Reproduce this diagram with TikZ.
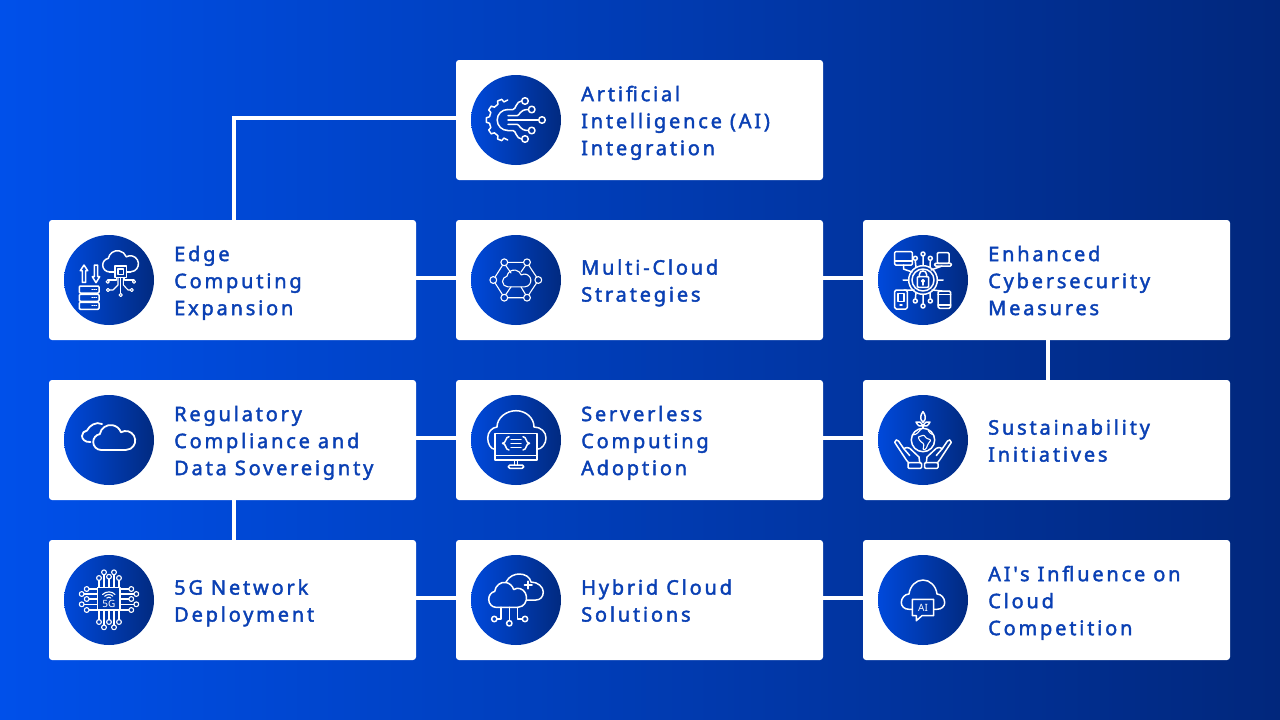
\documentclass[tikz,border=0pt]{standalone}
\usepackage{fontspec}
\newfontfamily\cardfont[LetterSpace=14,FakeBold=2]{Noto Sans}
\newfontfamily\iconfont{Noto Sans}
\usetikzlibrary{calc}
\definecolor{bgleft}{HTML}{0050EA}
\definecolor{bgmid}{HTML}{033DB4}
\definecolor{bgright}{HTML}{01277C}
\definecolor{badgeleft}{HTML}{0049DB}
\definecolor{badgeright}{HTML}{012A80}
\definecolor{cardink}{HTML}{0A40B4}
\tikzset{
    card/.style={fill=white,rounded corners=3pt,minimum width=367pt,minimum height=120pt,inner sep=0pt},
    badge/.style={circle,minimum size=90pt,inner sep=0pt,left color=badgeleft,right color=badgeright},
    cardtext/.style={anchor=west,align=left,inner sep=0pt,yshift=-3pt,text=cardink,font=\cardfont\fontsize{20}{27}\selectfont,
      execute at begin node={\rule{0pt}{21pt}},execute at end node={\rule[-5pt]{0pt}{5pt}}},
    link/.style={draw=white,line width=4pt},
    icon/.style={draw=white,line width=1.5pt,line cap=round,line join=round},
    fine/.style={draw=white,line width=1.1pt,line cap=round,line join=round},
    icontext/.style={text=white,inner sep=0pt,font=\iconfont\fontsize{10}{10}\selectfont},
}
% cloud outline, bottom left open
\newcommand{\cloudarcs}{(-.6,.6) arc[start angle=90,end angle=260,radius=.4] arc[start angle=190,end angle=340,radius=.55] arc[start angle=240,end angle=450,radius=.475]}
\begin{document}
\begin{tikzpicture}[x=1pt,y=-1pt]
  \shade[left color=bgleft,middle color=bgmid,right color=bgright] (0,0) rectangle (1280,720);
  %cards
  \node[card] (aicard) at (639.5,120) {};
  \node[card] (edgecard) at (232.5,280) {};
  \node[card] (multicard) at (639.5,280) {};
  \node[card] (securecard) at (1046.5,280) {};
  \node[card] (rulescard) at (232.5,440) {};
  \node[card] (servercard) at (639.5,440) {};
  \node[card] (greencard) at (1046.5,440) {};
  \node[card] (fivegcard) at (232.5,600) {};
  \node[card] (hybridcard) at (639.5,600) {};
  \node[card] (influencecard) at (1046.5,600) {};
  %links
  \draw[link] ([yshift=2pt]aicard.west) -| ([xshift=1.5pt]edgecard.north);
  \draw[link] ([yshift=2pt]edgecard.east) -- ([yshift=2pt]multicard.west);
  \draw[link] ([yshift=2pt]multicard.east) -- ([yshift=2pt]securecard.west);
  \draw[link] ([xshift=1.5pt]securecard.south) -- ([xshift=1.5pt]greencard.north);
  \draw[link] ([yshift=2pt]greencard.west) -- ([yshift=2pt]servercard.east);
  \draw[link] ([yshift=2pt]servercard.west) -- ([yshift=2pt]rulescard.east);
  \draw[link] ([xshift=1.5pt]rulescard.south) -- ([xshift=1.5pt]fivegcard.north);
  \draw[link] ([yshift=2pt]fivegcard.east) -- ([yshift=2pt]hybridcard.west);
  \draw[link] ([yshift=2pt]hybridcard.east) -- ([yshift=2pt]influencecard.west);
  %badges
  \node[badge] (aibadge) at (516,120) {};
  \node[badge] (edgebadge) at (109,280) {};
  \node[badge] (multibadge) at (516,280) {};
  \node[badge] (securebadge) at (923,280) {};
  \node[badge] (rulesbadge) at (109,440) {};
  \node[badge] (serverbadge) at (516,440) {};
  \node[badge] (greenbadge) at (923,440) {};
  \node[badge] (fivegbadge) at (109,600) {};
  \node[badge] (hybridbadge) at (516,600) {};
  \node[badge] (influencebadge) at (923,600) {};
  %texts
  \node[cardtext] (aitext) at (581,120) {Artificial\\Intelligence (AI)\\Integration};
  \node[cardtext] (edgetext) at (174,280) {Edge\\Computing\\Expansion};
  \node[cardtext] (multitext) at (581,280) {Multi-Cloud\\Strategies};
  \node[cardtext] (securetext) at (988,280) {Enhanced\\Cybersecurity\\Measures};
  \node[cardtext] (rulestext) at (174,440) {Regulatory\\Compliance and\\Data Sovereignty};
  \node[cardtext] (servertext) at (581,440) {Serverless\\Computing\\Adoption};
  \node[cardtext] (greentext) at (988,440) {Sustainability\\Initiatives};
  \node[cardtext] (fivegtext) at (174,600) {5G Network\\Deployment};
  \node[cardtext] (hybridtext) at (581,600) {Hybrid Cloud\\Solutions};
  \node[cardtext] (influencetext) at (988,600) {AI's Influence on\\Cloud\\Competition};
  %icon AI
  \begin{scope}[shift={(aibadge.center)}]
    \draw[icon] (-8.3,20) \foreach \a in {112,146,180,214,248} { -- ($(-8.3,0)+(\a-10:18.5)$) -- ($(-8.3,0)+(\a-6:21.5)$) -- ($(-8.3,0)+(\a+6:21.5)$) -- ($(-8.3,0)+(\a+10:18.5)$) } -- (-8.3,-20);
    \draw[icon] (-8.3,-10.5) arc[start angle=270,end angle=90,radius=10.5];
    \draw[icon] (-8,0) -- (22.7,0);
    \draw[icon] (26,0) circle[radius=3.3];
    \foreach \s in {1,-1} {
      \draw[icon,yscale=\s] (-8,4.3) -- (1,4.3) .. controls (4,4.3) and (3,10.5) .. (12.4,10.5);
      \draw[icon,yscale=\s] (-8.3,10.5) -- (-3,10.5) .. controls (0,10.5) and (0,19) .. (5.7,19);
      \draw[icon,yscale=\s] (15.7,10.5) circle[radius=3.3];
      \draw[icon,yscale=\s] (9,19) circle[radius=3.3];
    }
  \end{scope}
  %icon edge
  \begin{scope}[shift={(edgebadge.center)}]
    \draw[icon] (-25,-15) -- (-21.3,-9.3) -- (-23.3,-9.3) -- (-23.3,2.3) -- (-26.7,2.3) -- (-26.7,-9.3) -- (-28.7,-9.3) -- cycle;
    \draw[icon] (-13,2.7) -- (-9.3,-3.3) -- (-11.3,-3.3) -- (-11.3,-15) -- (-14.7,-15) -- (-14.7,-3.3) -- (-16.7,-3.3) -- cycle;
    \foreach \y in {6,14.3,22.3} {
      \draw[icon,rounded corners=1pt] (-29.7,\y) rectangle (-10,\y+7);
      \draw[fine] (-17,\y+3.5) -- (-16.5,\y+3.5) (-15,\y+3.5) -- (-14.5,\y+3.5) (-13,\y+3.5) -- (-12.5,\y+3.5);
    }
    \draw[icon,shift={(10.7,-18.3)},scale=17] \cloudarcs;
    \draw[icon] (0.5,-8.1) -- (5.9,-8.1) (17.5,-8.1) -- (21.4,-8.1);
    \draw[icon] (5.9,-14.1) rectangle (17.5,-2.5);
    \draw[icon] (9.1,-10.9) rectangle (14.3,-5.7);
    \draw[fine] (7.5,-2.5) -- (7.5,0) -- (-1.3,0);
    \draw[fine] (15.9,-2.5) -- (15.9,0) -- (25,0);
    \draw[fine] (9,-2.5) -- (9,5) -- (4,10) -- (0.6,10);
    \draw[fine] (14.4,-2.5) -- (14.4,5) -- (19,10) -- (21.1,10);
    \draw[fine] (11.7,-2.5) -- (11.7,13.4);
    \foreach \x/\y in {-1.3/1.7,25/1.7,-1/10,22.7/10,11.7/15} {
      \draw[fine] (\x,\y) circle[radius=1.6];
    }
  \end{scope}
  %icon multi cloud
  \begin{scope}[shift={(multibadge.center)}]
    \draw[fine] (-8.2,-17.7) -- (7.5,-17.7) (12.8,-14.7) -- (20.5,-3) (20.5,3) -- (12.8,14.7) (7.5,17.7) -- (-8.2,17.7) (-13.5,14.7) -- (-20.9,3) (-20.9,-3) -- (-13.5,-14.7);
    \draw[fine] (-10.2,-14.5) -- (-5,-7) (9.5,-14.5) -- (5,-8) (-10.2,14.5) -- (-5,6.9) (9.5,14.5) -- (5,6.9);
    \draw[fine,shift={(0,-1.2)},scale=13.5] \cloudarcs -- cycle;
    \foreach \x/\y in {-11.7/-17.7,11/-17.7,22.3/0,11/17.7,-11.7/17.7,-22.7/0} {
      \draw[fine] (\x,\y) circle[radius=3.4];
    }
  \end{scope}
  %icon security
  \begin{scope}[shift={(securebadge.center)}]
    \draw[icon,rounded corners=1pt] (-28.3,-28.3) rectangle (-10.7,-15);
    \draw[icon] (-28.3,-19) -- (-10.7,-19);
    \draw[icon] (-19.5,-15) -- (-19.5,-11) -- (-11,-8) (19,-14) -- (8,-10) (-19,10) -- (-9,10) (19,11) -- (9,10) (-14.5,0) -- (-20,0) (14.5,0) -- (20,0);
    \draw[icon,rounded corners=1pt] (14.3,-27.3) rectangle (26,-16.7);
    \draw[icon,rounded corners=1pt] (11.7,-16.7) rectangle (28.3,-14);
    \draw[icon,rounded corners=1.5pt] (-28.3,10) rectangle (-15.7,29);
    \draw[icon] (-25,13.3) rectangle (-19,21.7);
    \draw[icon] (-23,25) -- (-21,25);
    \draw[icon,rounded corners=1.5pt] (15,11) rectangle (27.7,28.3);
    \draw[icon] (15,14.3) -- (27.7,14.3) (15,25) -- (27.7,25);
    \draw[icon] (0,0) circle[radius=14.3];
    \draw[icon] (0,0) circle[radius=11];
    \draw[icon,rounded corners=1pt] (-5.7,-3.3) rectangle (5.7,7.3);
    \draw[icon] (-3.6,-3.3) -- (-3.6,-5.5) arc[start angle=180,end angle=360,radius=3.6] -- (3.6,-3.3);
    \draw[icon] (0,1) circle[radius=1.4];
    \draw[icon] (0,2.4) -- (0,5);
    \draw[icon] (0,-14.3) -- (0,-24) (-7,-12.5) -- (-7.7,-19) (7,-12.5) -- (7.3,-19) (0,14.3) -- (0,24) (-7,12.5) -- (-7.7,19) (7,12.5) -- (7.3,19);
    \foreach \x/\y in {-7.7/-21.7,0/-26,7.3/-21.7,-7.7/21,0/26,7.3/21} {
      \draw[icon] (\x,\y) circle[radius=2];
    }
  \end{scope}
  %icon regulatory
  \begin{scope}[shift={(rulesbadge.center)}]
    \draw[icon,line width=1.8pt,shift={(4.2,-2)},scale=20] \cloudarcs -- cycle;
    \draw[icon,line width=1.8pt] (-18.5,2) .. controls (-24,2.5) and (-27,-1) .. (-27,-4) .. controls (-27,-7) and (-25,-9) .. (-22,-9.5) .. controls (-20,-14) and (-13,-19) .. (-7,-16);
  \end{scope}
  %icon serverless
  \begin{scope}[shift={(serverbadge.center)}]
    \draw[icon] (-21,9.3) .. controls (-25.5,9.3) and (-28.3,3.5) .. (-28.3,-2) .. controls (-28.3,-8) and (-24,-12.5) .. (-19,-13) .. controls (-19,-22) and (-10,-29.3) .. (0,-29.3) .. controls (10,-29.3) and (18,-22) .. (18,-13) .. controls (25,-13) and (30,-8) .. (30,-2) .. controls (30,3.5) and (26,9.3) .. (21,9.3);
    \draw[icon] (-21,-6.7) rectangle (21,20);
    \draw[icon] (-21,15.7) -- (21,15.7);
    \draw[icon] (-1.7,20) -- (-1.7,25) (1.7,20) -- (1.7,25);
    \draw[icon,rounded corners=1.5pt] (-7.7,25) rectangle (7.7,28.3);
    \draw[icon] (-7,-3.3) .. controls (-11,-3.3) and (-9.5,3.3) .. (-13.5,3.3) .. controls (-9.5,3.3) and (-11,10) .. (-7,10);
    \draw[icon] (7,-3.3) .. controls (11,-3.3) and (9.5,3.3) .. (13.5,3.3) .. controls (9.5,3.3) and (11,10) .. (7,10);
    \draw[icon] (-5,-0.7) -- (5,-0.7) (-5,3.3) -- (5,3.3) (-5,7.3) -- (5,7.3);
  \end{scope}
  %icon sustainability
  \begin{scope}[shift={(greenbadge.center)}]
    \draw[icon] (0,0) circle[radius=11.7];
    \draw[fine,rounded corners=1pt] (-5,-3) -- (1,-5) -- (3,-2) -- (8,0) -- (5,4) -- (3,9) -- (0,10) -- (1,4) -- (-3,1) -- cycle;
    \draw[fine,rounded corners=1.5pt] (-10.5,-5) -- (-6,-6) -- (-4,-9) -- (-1,-11.5) (5,-10.5) -- (6,-7.5) -- (10.5,-5);
    \draw[icon] (0,-11.7) -- (0,-15);
    \draw[icon] (0,-17.7) .. controls (-4,-21) and (-2,-26) .. (0,-28.3) .. controls (2,-26) and (4,-21) .. (0,-17.7);
    \foreach \s in {1,-1} {
      \draw[icon,xscale=\s] (0,-14) .. controls (3,-13) and (5,-14) .. (7,-18) .. controls (4,-19) and (2,-18) .. (0,-14);
      \draw[icon,xscale=\s] (-26.7,0) -- (-28.3,2.3) -- (-17,19.5) -- (-14.5,22.7);
      \draw[icon,xscale=\s] (-26.7,0) -- (-24.5,1) -- (-19,9) (-19,9) -- (-13.3,15.5);
      \draw[icon,xscale=\s] (-19.5,8.5) -- (-16,7.5) -- (-13.3,8.3) -- (-4,17) -- (-3.3,22.7);
      \draw[icon,xscale=\s,rounded corners=1pt] (-15,22.7) rectangle (-1.5,28.3);
    }
  \end{scope}
  %icon 5G
  \begin{scope}[shift={(fivegbadge.center)}]
    \foreach \x/\y in {-10/-22,-5/-27.7,0/-23.3,5/-27.7,10/-22} {
      \draw[fine] (\x,-12.3) -- (\x,\y+2.4);
      \draw[fine] (\x,\y) circle[radius=2.4];
    }
    \foreach \x/\y in {-10/22,-5/27.3,0/22,5/27.3,10/22} {
      \draw[fine] (\x,10) -- (\x,\y-2.4);
      \draw[fine] (\x,\y) circle[radius=2.4];
    }
    \foreach \x/\y in {-22.3/-11,-27.3/-6,-22.3/-1,-27.3/4.3,-22.3/10} {
      \draw[fine] (-11.3,\y) -- (\x+2.4,\y);
      \draw[fine] (\x,\y) circle[radius=2.4];
    }
    \foreach \x/\y in {22.3/-11,27.3/-6,22.3/-1,27.3/4.3,22.3/10} {
      \draw[fine] (11,\y) -- (\x-2.4,\y);
      \draw[fine] (\x,\y) circle[radius=2.4];
    }
    \draw[icon,fill=badgeleft!50!badgeright] (-11.3,-12.3) rectangle (11,10);
    \draw[fine] (-6.5,-5.5) .. controls (-3,-9) and (3,-9) .. (6,-5.5) (-4.3,-3.8) .. controls (-2,-6) and (2,-6) .. (3.8,-3.8) (-2.2,-2) .. controls (-1,-3) and (1,-3) .. (1.8,-2);
    \node[icontext] (fivegmark) at (-0.1,4.2) {5G};
  \end{scope}
  %icon hybrid
  \begin{scope}[shift={(hybridbadge.center)}]
    \draw[icon,shift={(-9.3,-4.7)},xscale=18,yscale=20] \cloudarcs -- cycle;
    \draw[icon] (-10,-18) .. controls (-7,-24) and (-1,-26) .. (3.3,-26) .. controls (9,-26) and (14,-23) .. (15,-18) .. controls (22,-18) and (27.3,-13) .. (27.3,-8) .. controls (27.3,-3) and (24,0) .. (20,0) -- (11,0);
    \draw[icon,line width=1.8pt] (12.3,-18.7) -- (12.3,-11.3) (8.6,-15) -- (16,-15);
    \draw[icon] (-6.7,7.3) -- (-6.7,20.6) (-15,7.3) -- (-15,19) -- (-19,19) (1.7,7.3) -- (1.7,19) -- (6.3,19);
    \foreach \x/\y in {-21.7/19,-6.7/23.3,9/19} {
      \draw[icon] (\x,\y) circle[radius=2.7];
    }
  \end{scope}
  %icon AI influence
  \begin{scope}[shift={(influencebadge.center)}]
    \draw[icon] (-10.7,9.3) -- (-14,9.3) .. controls (-19,9.3) and (-21.7,6) .. (-21.7,2.5) .. controls (-21.7,-2) and (-18,-6) .. (-14,-6) .. controls (-13,-14) and (-7,-20) .. (0,-20) .. controls (7,-20) and (13,-14) .. (14,-6) .. controls (18,-6) and (21.7,-2) .. (21.7,2.5) .. controls (21.7,6) and (19,9.3) .. (14,9.3) -- (10.7,9.3);
    \draw[icon] (-10.7,-0.7) -- (10.7,-0.7) -- (10.7,15.7) -- (-1,15.7) -- (-6.7,20.7) -- (-6.7,15.7) -- (-10.7,15.7) -- cycle;
    \node[icontext] (influencemark) at (0,7.7) {AI};
  \end{scope}
\end{tikzpicture}
\end{document}
